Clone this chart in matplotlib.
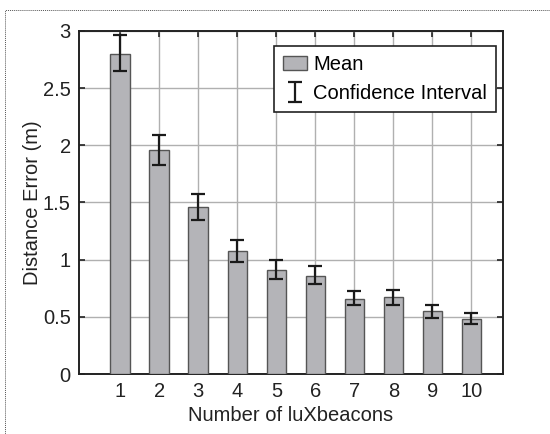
import matplotlib.pyplot as plt
from matplotlib.patches import Rectangle

# Data
beacons = [1, 2, 3, 4, 5, 6, 7, 8, 9, 10]
mean_error = [2.80, 1.96, 1.46, 1.08, 0.91, 0.86, 0.66, 0.67, 0.55, 0.485]
ci_low = [2.65, 1.83, 1.35, 0.98, 0.83, 0.785, 0.60, 0.605, 0.49, 0.435]
ci_high = [2.96, 2.09, 1.575, 1.175, 0.995, 0.945, 0.73, 0.735, 0.605, 0.535]
y_ticks = [0, 0.5, 1, 1.5, 2, 2.5, 3]
y_labels = ['0', '0.5', '1', '1.5', '2', '2.5', '3']

plt.rcParams['font.family'] = ['Liberation Sans', 'DejaVu Sans']

fig = plt.figure(figsize=(5.5, 4.34), dpi=100)
ax = fig.add_axes([0.144, 0.138, 0.77, 0.791])

# dotted frame around the figure
fig.patches.append(Rectangle((5 / 550, -0.1), 1.2, (434 - 10) / 434 + 0.1,
                             transform=fig.transFigure, fill=False,
                             edgecolor='#555555', linestyle=(0, (1, 1)), linewidth=0.7))

ax.bar(beacons, mean_error, width=0.5, color='#b4b4b8', edgecolor='#555555',
       linewidth=1.0, label='Mean', zorder=3)
yerr = [[m - lo for m, lo in zip(mean_error, ci_low)],
        [hi - m for m, hi in zip(mean_error, ci_high)]]
ax.errorbar(beacons, mean_error, yerr=yerr, fmt='none', ecolor='#1a1a1a',
            elinewidth=1.6, capsize=5, capthick=1.6, label='Confidence Interval', zorder=4)

ax.set_xlim(-0.05, 10.8)
ax.set_ylim(0, 3)
ax.set_xticks(beacons)
ax.set_yticks(y_ticks)
ax.set_yticklabels(y_labels)
ax.grid(True, color='#b0b0b0', linewidth=1.0, zorder=0)
ax.set_axisbelow(True)
ax.tick_params(direction='in', top=True, right=True, labelsize=14.5, length=4,
               width=1.2, colors='#222222', pad=6)
for s in ax.spines.values():
    s.set_linewidth(1.4)
    s.set_color('#222222')

ax.set_xlabel('Number of luXbeacons', fontsize=14.5, color='#222222', labelpad=3)
ax.set_ylabel('Distance Error (m)', fontsize=14.5, color='#222222', labelpad=1)

leg = ax.legend(loc='upper right', fontsize=14.5, fancybox=False, framealpha=1,
                edgecolor='#222222', borderpad=0.45, handlelength=1.2,
                handletextpad=0.3, labelspacing=0.5, borderaxespad=0,
                bbox_to_anchor=(0.985, 0.955))
leg.get_frame().set_linewidth(1.2)

fig.savefig('out.png', dpi=100)
